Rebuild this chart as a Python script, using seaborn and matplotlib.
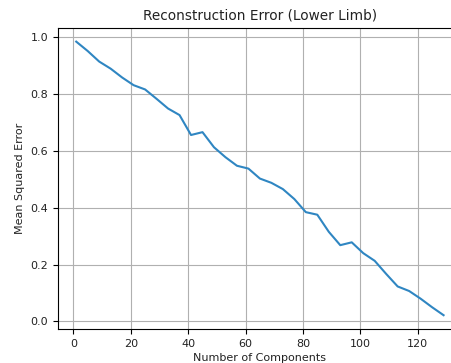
import matplotlib
matplotlib.use("Agg")
import matplotlib.pyplot as plt
import seaborn as sns
import pandas as pd

components = [1, 5, 9, 13, 17, 21, 25, 29, 33, 37, 41, 45, 49, 53, 57, 61, 65,
              69, 73, 77, 81, 85, 89, 93, 97, 101, 105, 109, 113, 117, 121, 125, 129]
mse = [0.983, 0.950, 0.913, 0.888, 0.857, 0.830, 0.815, 0.782, 0.748, 0.725,
       0.655, 0.665, 0.612, 0.577, 0.547, 0.537, 0.502, 0.487, 0.465, 0.430,
       0.384, 0.375, 0.315, 0.268, 0.278, 0.240, 0.213, 0.167, 0.123, 0.107,
       0.080, 0.050, 0.022]

df = pd.DataFrame({"Number of Components": components, "Mean Squared Error": mse})

plt.rcParams["font.family"] = ["DejaVu Sans"]
fig = plt.figure(figsize=(4.52, 3.63), dpi=100)
ax = fig.add_axes([0.128, 0.094, 0.894, 0.829])
sns.lineplot(data=df, x="Number of Components", y="Mean Squared Error",
             ax=ax, color="#2f86c2", linewidth=1.5)
ax.grid(True, color="#b0b0b0", linewidth=0.8)
ax.set_title("Reconstruction Error (Lower Limb)", fontsize=9.8, color="#222222")
ax.set_xlabel("Number of Components", fontsize=8, color="#222222", labelpad=3)
ax.set_ylabel("Mean Squared Error", fontsize=8, color="#222222")
ax.tick_params(labelsize=8, labelcolor="#222222")
ax.set_xticks([0, 20, 40, 60, 80, 100, 120])
ax.set_yticks([0.0, 0.2, 0.4, 0.6, 0.8, 1.0])
fig.savefig("out.png", dpi=100)
